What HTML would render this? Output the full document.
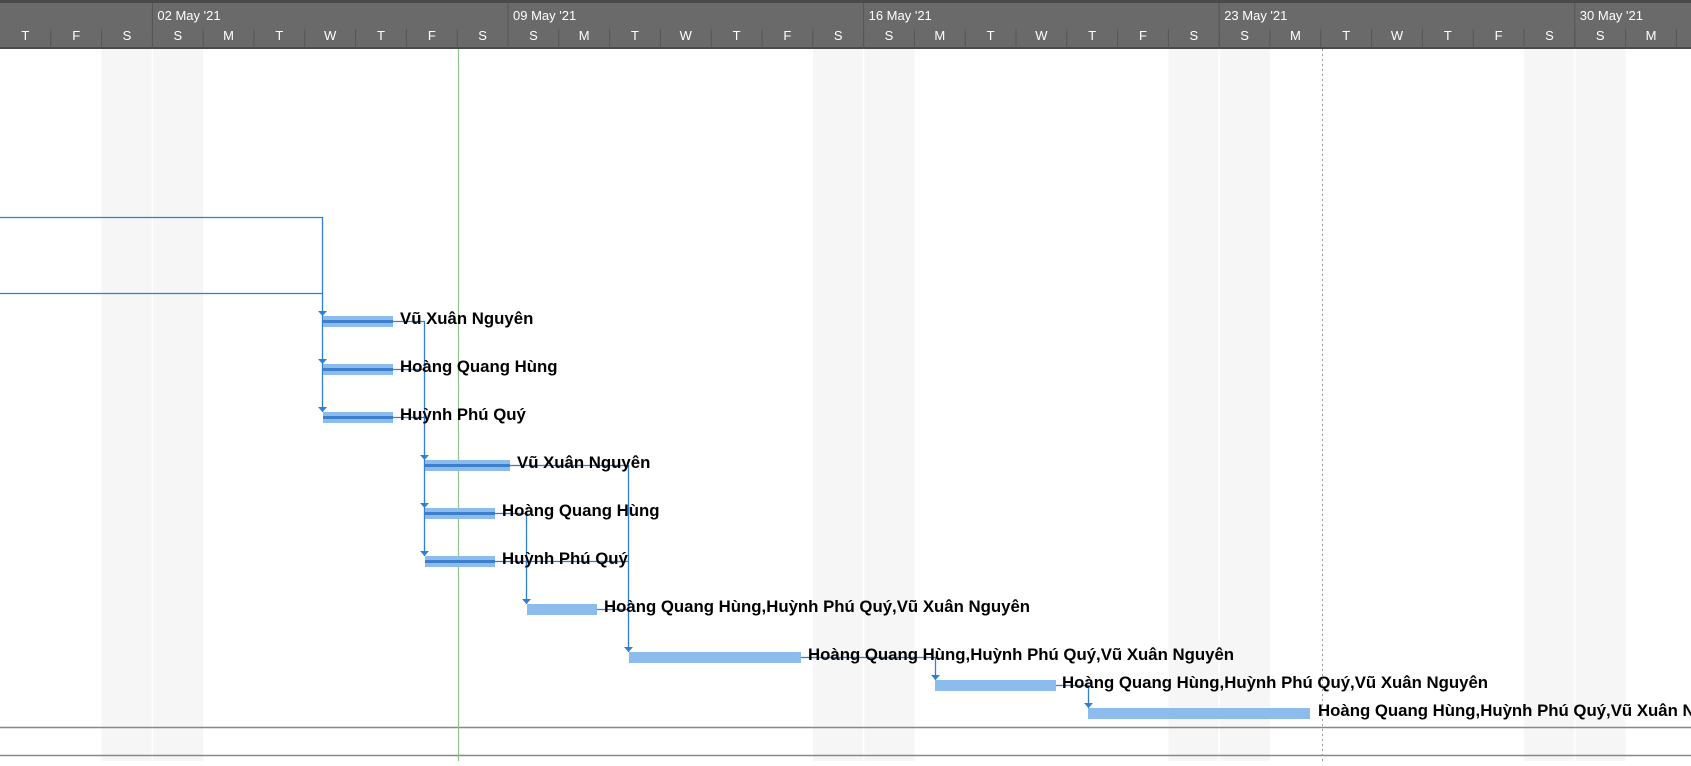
<!DOCTYPE html>
<html><head><meta charset="utf-8"><style>
body{margin:0;width:1691px;height:761px;overflow:hidden;background:#fff;font-family:"Liberation Sans",sans-serif;}
</style></head><body>
<svg width="1691" height="761" xmlns="http://www.w3.org/2000/svg" font-family="Liberation Sans, DejaVu Sans, sans-serif">
<rect x="0" y="0" width="1691" height="48" fill="#6a6a6a"/>
<rect x="0" y="0" width="1691" height="3" fill="#4a4a4a"/>
<rect x="0" y="47" width="1691" height="2" fill="#4a4a4a"/>
<g fill="#f6f6f6">
<rect x="101.6" y="49" width="101.6" height="712"/>
<rect x="813" y="49" width="101.6" height="712"/>
<rect x="1168.4" y="49" width="101.6" height="712"/>
<rect x="1524" y="49" width="101.6" height="712"/>
</g>
<g stroke="#fff" stroke-width="1.5">
<line x1="152.4" y1="49" x2="152.4" y2="761"/>
<line x1="863.6" y1="49" x2="863.6" y2="761"/>
<line x1="1219.2" y1="49" x2="1219.2" y2="761"/>
<line x1="1574.8" y1="49" x2="1574.8" y2="761"/>
</g>
<g id="hdr" fill="#fff" font-size="13" text-anchor="middle"></g>
<g stroke="#555" stroke-width="1" id="hlines"></g>
<script>
var w=50.8,days="TFSSMTWTFSSMTWTFSSMTWTFSSMTWTFSSMT";
var g=document.getElementById('hdr'),h=document.getElementById('hlines'),ns="http://www.w3.org/2000/svg";
for(var i=0;i<34;i++){var t=document.createElementNS(ns,'text');t.setAttribute('x',i*w+w/2);t.setAttribute('y',40);t.textContent=days[i];g.appendChild(t);
var l=document.createElementNS(ns,'line');l.setAttribute('x1',(i+1)*w);l.setAttribute('x2',(i+1)*w);l.setAttribute('y1',29);l.setAttribute('y2',48);h.appendChild(l);}
var d=["02 May '21","09 May '21","16 May '21","23 May '21","30 May '21"];
for(var k=0;k<5;k++){var x=(3+7*k)*w;var t=document.createElementNS(ns,'text');t.setAttribute('x',x+5);t.setAttribute('y',20);t.setAttribute('text-anchor','start');t.textContent=d[k];g.appendChild(t);
var l=document.createElementNS(ns,'line');l.setAttribute('x1',x);l.setAttribute('x2',x);l.setAttribute('y1',3);l.setAttribute('y2',48);h.appendChild(l);}
</script>
<line x1="0" y1="727.5" x2="1691" y2="727.5" stroke="#888" stroke-width="1.5"/>
<line x1="0" y1="755.5" x2="1691" y2="755.5" stroke="#888" stroke-width="1.5"/>
<line x1="458.5" y1="49" x2="458.5" y2="761" stroke="#8fc48f" stroke-width="1.2"/>
<line x1="1322.5" y1="49" x2="1322.5" y2="761" stroke="#999" stroke-width="1" stroke-dasharray="2,3"/>
<g stroke="#2f7ed8" stroke-width="1.3" fill="none">
<path d="M0 217.5H322.5V412"/>
<path d="M0 293.5H322.5"/>
<path d="M393 321.5H424.5V556"/>
<path d="M393 369.5H424.5M393 417.5H424.5"/>
<path d="M510 465.5H628.5V652"/>
<path d="M495 513.5H526.5V604"/>
<path d="M495 561.5H628.5"/>
<path d="M597 609.5H628.5"/>
<path d="M801 657.5H935.5V680"/>
<path d="M1056 685.5H1088.5V708"/>
</g>
<g fill="#2f7ed8">
<path d="M318 311h9l-4.5 5z"/><path d="M318 359h9l-4.5 5z"/><path d="M318 407h9l-4.5 5z"/>
<path d="M420 455h9l-4.5 5z"/><path d="M420 503h9l-4.5 5z"/><path d="M420 551h9l-4.5 5z"/>
<path d="M522 599h9l-4.5 5z"/><path d="M624 647h9l-4.5 5z"/><path d="M931 675h9l-4.5 5z"/><path d="M1084 703h9l-4.5 5z"/>
</g>
<g fill="#8cbcec">
<rect x="323" y="316" width="70" height="11"/><rect x="323" y="364" width="70" height="11"/><rect x="323" y="412" width="70" height="11"/>
<rect x="425" y="460" width="85" height="11"/><rect x="425" y="508" width="70" height="11"/><rect x="425" y="556" width="70" height="11"/>
<rect x="527" y="604" width="70" height="11"/><rect x="629" y="652" width="172" height="11"/><rect x="935" y="680" width="121" height="11"/><rect x="1088" y="708" width="222" height="11"/>
</g>
<g fill="#3d7fcc">
<rect x="323" y="320" width="70" height="3"/><rect x="323" y="368" width="70" height="3"/><rect x="323" y="416" width="70" height="3"/>
<rect x="425" y="464" width="85" height="3"/><rect x="425" y="512" width="70" height="3"/><rect x="425" y="560" width="70" height="3"/>
</g>
<g font-size="16.8" font-weight="bold" fill="#000">
<text x="400" y="324">Vũ Xuân Nguyên</text>
<text x="400" y="372">Hoàng Quang Hùng</text>
<text x="400" y="420">Huỳnh Phú Quý</text>
<text x="517" y="468">Vũ Xuân Nguyên</text>
<text x="502" y="516">Hoàng Quang Hùng</text>
<text x="502" y="564">Huỳnh Phú Quý</text>
<text x="604" y="612">Hoàng Quang Hùng,Huỳnh Phú Quý,Vũ Xuân Nguyên</text>
<text x="808" y="660">Hoàng Quang Hùng,Huỳnh Phú Quý,Vũ Xuân Nguyên</text>
<text x="1062" y="688">Hoàng Quang Hùng,Huỳnh Phú Quý,Vũ Xuân Nguyên</text>
<text x="1318" y="716">Hoàng Quang Hùng,Huỳnh Phú Quý,Vũ Xuân Nguyên</text>
</g>
</svg>
</body></html>
